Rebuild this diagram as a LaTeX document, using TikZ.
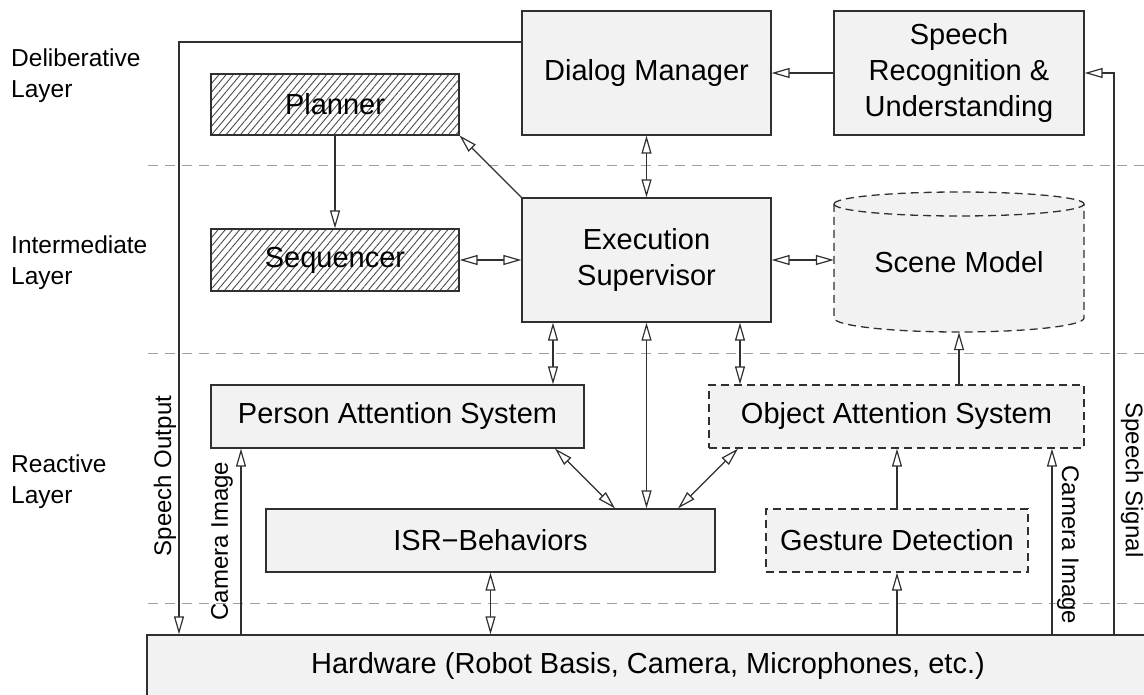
\documentclass[tikz,border=0pt]{standalone}
\usepackage{fontspec}
\setmainfont{Liberation Sans}
\usetikzlibrary{arrows.meta,patterns.meta}
\definecolor{boxfill}{HTML}{F2F2F2}
\definecolor{linec}{HTML}{303030}
\definecolor{layerc}{HTML}{A0A0A0}
\begin{document}
\begin{tikzpicture}[x=1pt,y=-1pt,
  font=\fontsize{29}{36}\selectfont,
  >={Triangle[length=18pt,width=10pt,fill=white]},
  box/.style={draw=linec, line width=1.3pt, fill=boxfill, rectangle, inner sep=0pt, align=center},
  dbox/.style={box, dash pattern=on 8pt off 5pt},
  hatched/.style={draw=linec, line width=1.3pt, rectangle, inner sep=0pt,
     pattern={Lines[angle=50,distance=5.5pt,line width=0.9pt]}, pattern color=black!70},
  conn/.style={draw=linec, line width=1.2pt},
  layer/.style={draw=layerc, line width=1pt, dash pattern=on 10pt off 7pt},
  lbl/.style={font=\fontsize{24.5}{31}\selectfont, inner sep=0pt, align=left},
  side/.style={font=\fontsize{24}{29}\selectfont, inner sep=0pt},
  cyl/.style={draw=linec, line width=1.3pt, dash pattern=on 8pt off 5pt},
]
\useasboundingbox (0,0) rectangle (1144,695);
\clip (0,0) rectangle (1144,695);

% layer separators
\draw[layer] (148,166) -- (1144,166);
\draw[layer] (148,353) -- (1144,353);
\draw[layer] (148,603) -- (1144,603);

% layer labels
\node[lbl, anchor=north west] (l1) at (11,49) {Deliberative\\Layer};
\node[lbl, anchor=north west] (l2) at (11,236) {Intermediate\\Layer};
\node[lbl, anchor=north west] (l3) at (11,455) {Reactive\\Layer};

% scene model cylinder
\path[cyl, fill=boxfill] (834,204) -- (834,318)
  arc[start angle=180,end angle=0,x radius=125,y radius=14] -- (1084,204)
  arc[start angle=0,end angle=-180,x radius=125,y radius=12] -- cycle;
\path[cyl] (834,204) arc[start angle=180,end angle=0,x radius=125,y radius=12];
\node[inner sep=0pt, minimum width=250pt, minimum height=140pt] (sm) at (959,262) {Scene Model};

% nodes
\node[box, minimum width=249pt, minimum height=124pt] (dm) at (646.5,73) {Dialog Manager};
\node[box, minimum width=250pt, minimum height=124pt] (sru) at (959,73) {Speech\\Recognition \&\\Understanding};
\node[hatched, minimum width=248pt, minimum height=61pt] (pl) at (335,104.5) {Planner};
\node[hatched, minimum width=248pt, minimum height=62pt] (seq) at (335,260) {Sequencer};
\node[box, minimum width=249pt, minimum height=124pt] (es) at (646.5,260) {Execution\\Supervisor};
\node[box, minimum width=373pt, minimum height=63pt] (pas) at (397.5,416.5) {Person Attention System};
\node[dbox, minimum width=375pt, minimum height=63pt] (oas) at (896.5,416.5) {Object Attention System};
\node[box, minimum width=449pt, minimum height=63pt] (isr) at (490.5,540.5) {ISR−Behaviors};
\node[dbox, minimum width=262pt, minimum height=63pt] (gd) at (897,540.5) {Gesture Detection};
\node[box, minimum width=1002pt, minimum height=62pt] (hw) at (648,666) {Hardware (Robot Basis, Camera, Microphones, etc.)};

% helper coordinates
\coordinate (so) at (179,42);
\coordinate (ss) at (1114,73);
\coordinate (ci1) at (241,0);
\coordinate (ci2) at (1052,0);
\coordinate (a1) at (553,0);
\coordinate (a3) at (740,0);
\coordinate (p1) at (555,0);
\coordinate (p2) at (615,0);
\coordinate (p3) at (738,0);
\coordinate (p4) at (678,0);

% connectors
\draw[conn,->] (dm.west |- so) -- (so) -- (so |- hw.north);
\draw[conn,->] (sru.west) -- (dm.east);
\draw[conn,->] (ss |- hw.north) -- (ss) -- (sru.east);
\draw[conn,<->] (dm.south) -- (es.north);
\draw[conn,->] (es.north west) -- (pl.south east);
\draw[conn,->] (pl.south) -- (seq.north);
\draw[conn,<->] (seq.east) -- (es.west);
\draw[conn,<->] (es.east) -- (es.east -| sm.west);
\draw[conn,<->] (es.south -| a1) -- (pas.north -| a1);
\draw[conn,<->] (es.south) -- (es.south |- isr.north);
\draw[conn,<->] (es.south -| a3) -- (oas.north -| a3);
\draw[conn,<->] (pas.south -| p1) -- (isr.north -| p2);
\draw[conn,<->] (oas.south -| p3) -- (isr.north -| p4);
\draw[conn,<->] (isr.south) -- (isr.south |- hw.north);
\draw[conn,->] (oas.north -| sm.south) -- (sm.south);
\draw[conn,->] (gd.north) -- (gd.north |- oas.south);
\draw[conn,->] (gd.south |- hw.north) -- (gd.south);
\draw[conn,->] (ci1 |- hw.north) -- (ci1 |- pas.south);
\draw[conn,->] (ci2 |- hw.north) -- (ci2 |- oas.south);

% connector labels
\node[side, rotate=90] (lso) at (165,476) {Speech Output};
\node[side, rotate=90] (lci1) at (222,541) {Camera Image};
\node[side, rotate=-90] (lci2) at (1068,545) {Camera Image};
\node[side, rotate=-90] (lss) at (1132,480) {Speech Signal};
\end{tikzpicture}
\end{document}
